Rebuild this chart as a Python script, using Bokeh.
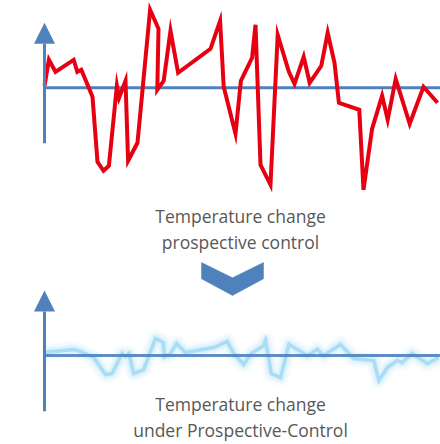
from bokeh.plotting import figure
from bokeh.models import Range1d, Arrow, NormalHead
from bokeh.core.properties import value
from bokeh.embed import file_html
from bokeh.resources import INLINE

# ---- data: uncontrolled temperature change (top) ----
t_before = [0, 1.1, 2.75, 7.3, 8.2, 9.2, 12.0, 13.25, 14.75, 16.1, 18.1, 18.65, 20.25, 20.9,
            23.25, 26.4, 28.5, 28.2, 29.8, 31.5, 33.4, 41.5, 43.9, 44.8, 47.75, 49.1, 51.9,
            52.75, 54.0, 56.5, 58.3, 61.1, 62.5, 64.8, 66.3, 69.2, 70.8, 72.5, 73.6, 78.7,
            79.75, 81.9, 84.4, 85.8, 87.8, 91.3, 94.75, 98.25]
dT_before = [0.2, 2.8, 1.6, 2.8, 1.6, 1.8, -0.9, -7.4, -8.3, -7.8, 0.2, -1.0, 0.7, -7.3,
             -5.5, 7.8, 5.9, -0.2, 0.7, 5.7, 1.5, 3.9, 6.7, 0.1, -4.6, 0.7, 3.0,
             6.3, -7.7, -9.7, 5.3, 1.6, 0.4, 3.1, 0.5, 2.2, 5.5, 2.5, -1.5, -2.2,
             -10.2, -4.1, -0.8, -3.2, 0.9, -3.6, 0.1, -1.5]

# ---- data: temperature change under prospective control (bottom) ----
t_after = [0, 2.3, 7.3, 9.0, 12.3, 15.25, 16.9, 19.4, 20.25, 21.1, 22.3, 24.8, 27.75, 29.7,
           30.0, 31.5, 33.0, 35.25, 42.3, 45.7, 47.3, 49.8, 51.7, 54.8, 55.25, 56.7, 59.0,
           61.1, 65.7, 68.2, 69.8, 74.0, 77.3, 82.3, 83.6, 85.7, 88.2, 89.4, 91.9, 95.7, 98.6]
dT_after = [0.3, 0.4, 0.6, 0.4, -0.2, -1.9, -1.8, 0.2, -0.1, 0.2, -1.8, -1.4, 1.7, 1.3,
            -0.1, 0.2, 1.2, 0.3, 0.8, 1.4, 0.2, -0.9, 0.2, 1.0, 1.5, -1.8, -2.2,
            1.1, 0.0, 0.6, 0.0, 1.1, -0.3, -0.5, -2.5, -1.2, -0.5, -0.7, 0.2, -0.8, -0.2]

caption_top = ["Temperature change", "prospective control"]
caption_bottom = ["Temperature change", "under Prospective-Control"]

AXIS = "#4F81BD"
RED = "#E60012"
ICE = "#A9DCF5"
GLOW = "#BDE3F8"
TXT = "#595757"
FONT = value("Open Sans")

p = figure(width=440, height=444, output_backend="svg", toolbar_location=None,
           x_range=Range1d(-11, 99), y_range=Range1d(-35.67, 8.73),
           min_border=0, background_fill_color="white", border_fill_color="white")
p.extra_y_ranges = {"lower": Range1d(-8.9, 35.5)}
p.axis.visible = False
p.grid.visible = False
p.outline_line_color = None

xmax = 99

# ---- top chart ----
p.segment(x0=[0], y0=[0], x1=[xmax], y1=[0], line_color=AXIS, line_width=3)
p.add_layout(Arrow(x_start=0, y_start=-5.54, x_end=0, y_end=6.5,
                   line_color=AXIS, line_width=3,
                   end=NormalHead(size=21, fill_color=AXIS, line_color=AXIS, line_width=0)))
p.line(t_before, dT_before, line_color=RED, line_width=4, line_join="miter")

# ---- captions & chevron ----
p.text(x=[49, 49], y=[-12.8, -15.4], text=caption_top, text_font=FONT,
       text_font_size="17.5px", text_color=TXT, text_align="center",
       text_baseline="alphabetic")
p.patch(x=[39.25, 47, 54.75, 54.75, 47, 39.25],
        y=[-17.47, -19.0, -17.47, -19.1, -20.77, -19.1],
        fill_color=AXIS, line_color=AXIS, line_width=0.5)

# ---- bottom chart ----
p.add_layout(Arrow(x_start=0, y_start=-5.57, x_end=0, y_end=6.5,
                   line_color=AXIS, line_width=3, y_range_name="lower",
                   end=NormalHead(size=21, fill_color=AXIS, line_color=AXIS, line_width=0)))
for w, a in [(18, 0.08), (14, 0.12), (10, 0.18), (7, 0.3)]:
    p.line(t_after, dT_after, line_color=GLOW, line_width=w, line_alpha=a,
           line_join="round", y_range_name="lower")
p.line(t_after, dT_after, line_color=ICE, line_width=3.5, line_join="miter",
       y_range_name="lower")
p.segment(x0=[0], y0=[0], x1=[xmax], y1=[0], line_color=AXIS, line_width=3,
          line_alpha=0.9, y_range_name="lower")

p.text(x=[49, 49], y=[-4.8, -7.45], text=caption_bottom, text_font=FONT,
       text_font_size="17.5px", text_color=TXT, text_align="center",
       text_baseline="alphabetic", y_range_name="lower")

open("out.html", "w").write(file_html(p, INLINE))
